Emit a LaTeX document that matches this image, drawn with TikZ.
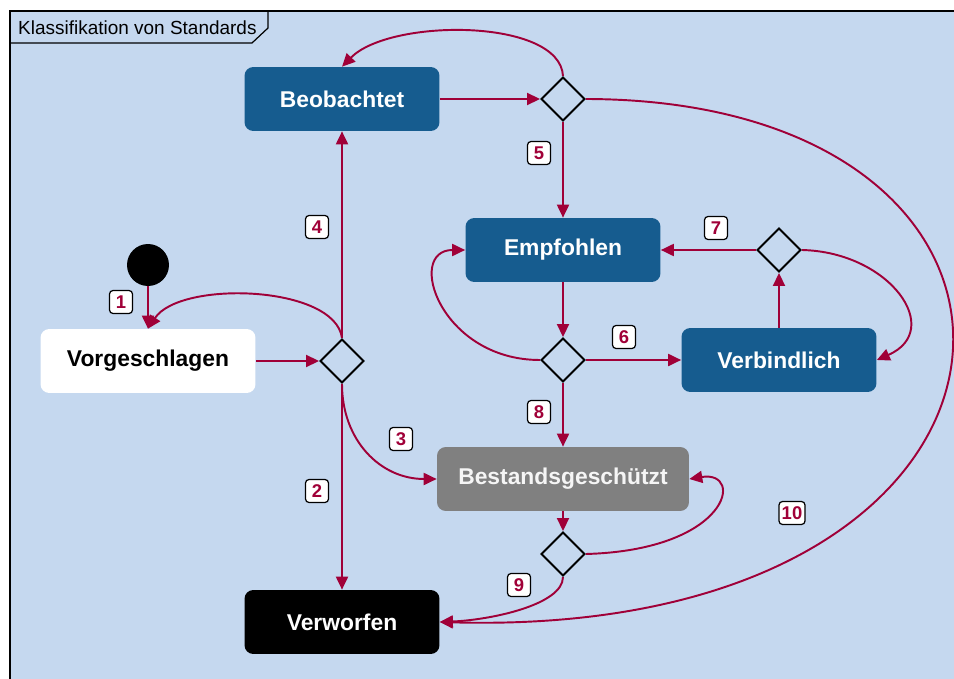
\documentclass[tikz,border=0pt]{standalone}
\usepackage{fontspec}
\setmainfont{Liberation Sans}
\usetikzlibrary{shapes.geometric,arrows.meta}

\definecolor{bgblue}{RGB}{197,216,239}
\definecolor{boxblue}{RGB}{22,92,143}
\definecolor{edgered}{RGB}{160,0,56}
\definecolor{boxgray}{RGB}{128,128,128}

\tikzset{
  state/.style={rectangle, rounded corners=5pt, minimum width=3.9cm, minimum height=1.28cm,
    font=\fontsize{13}{15}\selectfont\bfseries, inner sep=0pt},
  bluestate/.style={state, fill=boxblue, text=white},
  choice/.style={diamond, draw=black, line width=1.1pt, minimum width=0.88cm, minimum height=0.88cm, inner sep=0pt},
  flow/.style={draw=edgered, line width=1.1pt, -{Triangle[length=2.6mm,width=2.4mm]}},
  tag/.style={rectangle, rounded corners=2pt, draw=black, line width=0.7pt, fill=white, text=edgered,
    font=\fontsize{10.5}{11}\selectfont\bfseries, minimum width=0.46cm, minimum height=0.46cm, inner sep=0pt}
}

\begin{document}
\begin{tikzpicture}[x=0.02cm, y=-0.02cm]
\clip (0,0) rectangle (954,679);

% frame and title tab
\draw[line width=1.2pt, fill=bgblue] (10,11) rectangle (970,700);
\draw[line width=0.7pt] (10,43) -- (252,43) -- (268,28) -- (268,11);
\node[anchor=west, font=\fontsize{10.8}{12}\selectfont] (title) at (12,28) {Klassifikation von Standards};

% states
\node[circle, fill=black, minimum size=0.84cm, inner sep=0pt] (start) at (148,265) {};
\node[state, fill=white, minimum width=4.3cm] (vorg) at (148,361) {Vorgeschlagen};
\node[bluestate] (beob) at (342,99) {Beobachtet};
\node[bluestate] (empf) at (563,250) {Empfohlen};
\node[bluestate] (verb) at (779,360) {Verbindlich};
\node[state, fill=boxgray, text=white!92!gray, minimum width=5.04cm] (best) at (563,479) {Bestandsgeschützt};
\node[state, fill=black, text=white] (verw) at (342,622) {Verworfen};

% decisions
\node[choice] (d1) at (342,361) {};
\node[choice] (d2) at (563,99) {};
\node[choice] (d3) at (563,360) {};
\node[choice] (d4) at (779,250) {};
\node[choice] (d5) at (563,554) {};

% transitions
\draw[flow] (start) -- (vorg.north);
\draw[flow] (vorg) -- (d1);
\draw[flow] (d1.north) .. controls (335,285) and (180,280) .. (vorg.north);
\draw[flow] (d1.north) -- (beob);
\draw[flow] (d1.south) -- (verw);
\draw[flow] (d1.south) .. controls (342,440) and (380,479) .. (best.west);
\draw[flow] (beob) -- (d2);
\draw[flow] (d2.north) .. controls (560,18) and (390,18) .. (beob.north);
\draw[flow] (d2.south) -- (empf);
\draw[flow] (d2.east) .. controls (1110,100) and (1080,640) .. (verw.east);
\draw[flow] (empf) -- (d3);
\draw[flow] (d3) -- (verb);
\draw[flow] (d3.west) .. controls (440,360) and (405,250) .. (empf.west);
\draw[flow] (d3.south) -- (best);
\draw[flow] (verb) -- (d4);
\draw[flow] (d4) -- (empf);
\draw[flow] (d4.east) .. controls (890,252) and (945,330) .. (verb.east);
\draw[flow] (best) -- (d5);
\draw[flow] (d5.east) .. controls (730,550) and (745,470) .. (best.east);
\draw[flow] (d5.south) .. controls (563,605) and (490,620) .. (verw.east);

% numbers
\node[tag] (n1) at (121,302) {1};
\node[tag] (n2) at (317,491) {2};
\node[tag] (n3) at (401,439) {3};
\node[tag] (n4) at (317,227) {4};
\node[tag] (n5) at (539,153) {5};
\node[tag] (n6) at (624,337) {6};
\node[tag] (n7) at (716,228) {7};
\node[tag] (n8) at (539,412) {8};
\node[tag] (n9) at (519,585) {9};
\node[tag, minimum width=0.52cm] (n10) at (792,513) {10};
\end{tikzpicture}
\end{document}
